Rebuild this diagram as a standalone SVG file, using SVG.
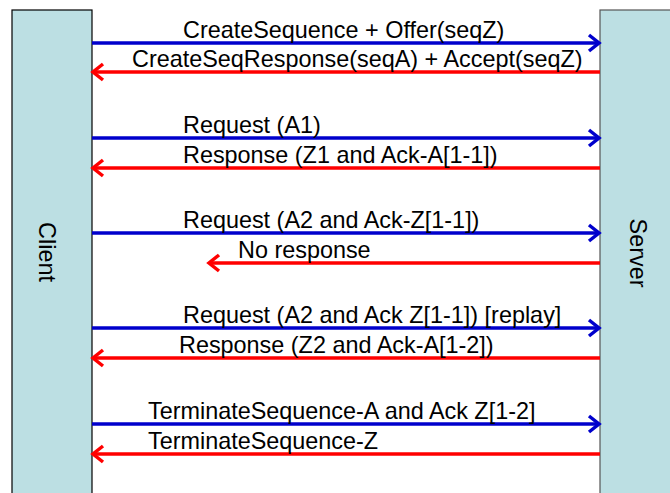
<svg xmlns="http://www.w3.org/2000/svg" width="670" height="493" viewBox="0 0 670 493">
<style>
.bar{fill:#BCDFE3;stroke:#000;stroke-width:1.2}
.lbl{font-family:"Liberation Sans",Arial,sans-serif;font-size:23.4px;fill:#000}
.req{stroke:#0000CC;stroke-width:3.5;fill:none}
.rsp{stroke:#FF0000;stroke-width:3.5;fill:none}
</style>
<defs>
<marker id="ab" markerUnits="userSpaceOnUse" markerWidth="20" markerHeight="20" viewBox="-14 -10 16 20" refX="0" refY="0" orient="auto">
<path d="M-10,-8 L0,0 L-10,8" fill="none" stroke="#0000CC" stroke-width="3.5"/>
</marker>
<marker id="ar" markerUnits="userSpaceOnUse" markerWidth="20" markerHeight="20" viewBox="-14 -10 16 20" refX="0" refY="0" orient="auto">
<path d="M-10,-8 L0,0 L-10,8" fill="none" stroke="#FF0000" stroke-width="3.5"/>
</marker>
</defs>
<rect width="670" height="493" fill="#fff"/>
<g id="client">
<rect class="bar" x="12" y="10" width="80" height="495"/>
<text class="lbl" transform="translate(39,252) rotate(90)" text-anchor="middle">Client</text>
</g>
<g id="server">
<rect class="bar" x="600" y="10" width="80" height="495" style="stroke:#555"/>
<text class="lbl" transform="translate(630,253) rotate(90)" text-anchor="middle">Server</text>
</g>
<g id="connectors">
<line class="req" x1="92" y1="43" x2="599" y2="43" marker-end="url(#ab)"/>
<line class="rsp" x1="600" y1="72" x2="93" y2="72" marker-end="url(#ar)"/>
<line class="req" x1="92" y1="138" x2="599" y2="138" marker-end="url(#ab)"/>
<line class="rsp" x1="600" y1="168" x2="93" y2="168" marker-end="url(#ar)"/>
<line class="req" x1="92" y1="233" x2="599" y2="233" marker-end="url(#ab)"/>
<line class="rsp" x1="600" y1="263" x2="209" y2="263" marker-end="url(#ar)"/>
<line class="req" x1="92" y1="328" x2="599" y2="328" marker-end="url(#ab)"/>
<line class="rsp" x1="600" y1="358" x2="93" y2="358" marker-end="url(#ar)"/>
<line class="req" x1="92" y1="424" x2="599" y2="424" marker-end="url(#ab)"/>
<line class="rsp" x1="600" y1="454" x2="93" y2="454" marker-end="url(#ar)"/>
</g>
<g id="labels">
<text class="lbl" x="183" y="38">CreateSequence + Offer(seqZ)</text>
<text class="lbl" x="132" y="67">CreateSeqResponse(seqA) + Accept(seqZ)</text>
<text class="lbl" x="183" y="133">Request (A1)</text>
<text class="lbl" x="183" y="163">Response (Z1 and Ack-A[1-1])</text>
<text class="lbl" x="183" y="228">Request (A2 and Ack-Z[1-1])</text>
<text class="lbl" x="238" y="258">No response</text>
<text class="lbl" x="183" y="323">Request (A2 and Ack Z[1-1]) [replay]</text>
<text class="lbl" x="179" y="353">Response (Z2 and Ack-A[1-2])</text>
<text class="lbl" x="148" y="419">TerminateSequence-A and Ack Z[1-2]</text>
<text class="lbl" x="148" y="449">TerminateSequence-Z</text>
</g>
</svg>
